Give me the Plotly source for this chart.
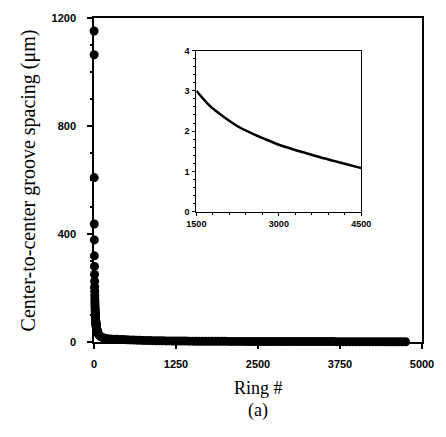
import plotly.graph_objects as go

# ---- main series: ring number vs center-to-center groove spacing (um)
ring_head = [1, 2, 3, 4, 5, 6, 7, 8, 9, 10, 11, 12, 13, 14, 15, 16, 17, 18, 19, 20,
             21, 22, 23, 24, 25, 26, 27, 28, 29, 30, 31, 32, 33, 34, 35, 36, 37, 38,
             39, 40, 42, 44, 46, 48, 50, 53, 56, 60, 65, 70, 80, 90, 100, 125, 150,
             175, 200, 250, 300, 350]
spacing_head = [1152, 1064, 609, 437, 378, 319, 280, 250, 225, 205, 188, 173, 160,
                149, 139, 131, 123, 116, 110, 104, 99, 94, 90, 86, 82, 79, 76, 73, 70,
                68, 66, 64, 62, 60, 58, 56, 55, 53, 52, 50, 48, 46, 44, 42, 40, 38, 36,
                33, 31, 29, 25, 22, 20, 17, 15, 13, 12, 11, 10, 9.8]

ring_tail = list(range(400, 4751, 50))
spacing_tail = [9.5, 9.0, 8.5, 7.8, 7.2, 6.7, 6.2, 5.8, 5.5, 5.2, 5.0, 4.7, 4.5, 4.3,
                4.1, 3.95, 3.8, 3.65, 3.5, 3.38, 3.25, 3.12, 3.0, 2.92, 2.85, 2.77, 2.7,
                2.62, 2.55, 2.5, 2.45, 2.4, 2.35, 2.3, 2.25, 2.2, 2.16, 2.12, 2.08, 2.04,
                2.01, 1.98, 1.95, 1.92, 1.89, 1.86, 1.83, 1.8, 1.77, 1.74, 1.71, 1.68,
                1.66, 1.64, 1.62, 1.59, 1.57, 1.55, 1.53, 1.51, 1.49, 1.47, 1.45, 1.43,
                1.41, 1.39, 1.37, 1.35, 1.34, 1.32, 1.3, 1.28, 1.26, 1.24, 1.23, 1.21,
                1.2, 1.18, 1.17, 1.15, 1.13, 1.1, 1.08, 1.07, 1.05, 1.04, 1.02, 1.01]

ring = ring_head + ring_tail[:len(spacing_tail)]
spacing = spacing_head + spacing_tail

# ---- inset series
inset_ring = [1500, 1625, 1750, 1875, 2000, 2250, 2500, 2750, 3000, 3250, 3500, 3750,
              4000, 4250, 4500]
inset_spacing = [3.0, 2.8, 2.62, 2.48, 2.35, 2.12, 1.95, 1.8, 1.66, 1.55, 1.45, 1.35,
                 1.26, 1.17, 1.08]

main_xticks = [0, 1250, 2500, 3750, 5000]
main_yticks = [0, 400, 800, 1200]
inset_xticks = [1500, 3000, 4500]
inset_yticks = [0, 1, 2, 3, 4]

W, H = 446, 437
ml, mr, mt, mb = 94, 22, 14, 95
pw, ph = W - ml - mr, H - mt - mb

def px2paper_x(px):
    return (px - ml) / pw

def px2paper_y(py):
    return (H - mb - py) / ph

tickfont_main = dict(family="Liberation Sans", size=11, color="black", weight="bold")
tickfont_inset = dict(family="Liberation Sans", size=9, color="black", weight="bold")
serif = "Liberation Serif"

fig = go.Figure()
fig.add_trace(go.Scatter(
    x=ring, y=spacing, mode="markers",
    marker=dict(color="black", size=9, line=dict(width=0)),
    cliponaxis=False, showlegend=False, xaxis="x", yaxis="y"))
fig.add_trace(go.Scatter(
    x=inset_ring, y=inset_spacing, mode="lines",
    line=dict(color="black", width=2.5, shape="spline", smoothing=0.8),
    showlegend=False, xaxis="x2", yaxis="y2"))

axis_common = dict(showline=True, linecolor="black", linewidth=1.5, mirror=True,
                   showgrid=False, zeroline=False, ticks="outside",
                   tickcolor="black")

fig.update_layout(
    width=W, height=H,
    margin=dict(l=ml, r=mr, t=mt, b=mb),
    paper_bgcolor="white", plot_bgcolor="white",
    xaxis=dict(domain=[0, 1], range=[0, 5000], tickvals=main_xticks,
               ticktext=[str(v) for v in main_xticks], ticklen=5, tickwidth=1.5,
               tickfont=tickfont_main, ticklabelstandoff=6, **axis_common),
    yaxis=dict(domain=[0, 1], range=[0, 1200], tickvals=main_yticks,
               ticktext=[str(v) for v in main_yticks], ticklen=5, tickwidth=1.5,
               tickfont=tickfont_main, ticklabelstandoff=9,
               minor=dict(dtick=100, ticklen=2, tickcolor="black", ticks="outside"),
               **axis_common),
    xaxis2=dict(domain=[px2paper_x(197), px2paper_x(363)], anchor="y2",
                range=[1500, 4500], tickvals=inset_xticks,
                ticktext=[str(v) for v in inset_xticks], ticklen=3, tickwidth=1,
                tickfont=tickfont_inset, ticklabelstandoff=0,
                minor=dict(dtick=300, tick0=1500, ticklen=2, tickcolor="black", ticks="outside"),
                **{**axis_common, "linewidth": 1.2}),
    yaxis2=dict(domain=[px2paper_y(210), px2paper_y(47)], anchor="x2",
                range=[0, 4], tickvals=inset_yticks,
                ticktext=[str(v) for v in inset_yticks], ticklen=3, tickwidth=1,
                tickfont=tickfont_inset, ticklabelstandoff=1,
                minor=dict(dtick=0.2, ticklen=2, tickcolor="black", ticks="outside"),
                **{**axis_common, "linewidth": 1.2}),
    annotations=[
        dict(text="Center-to-center groove spacing (μm)", textangle=-90,
             xref="paper", yref="paper", x=px2paper_x(28), y=px2paper_y(178),
             xanchor="center", yanchor="middle", showarrow=False,
             font=dict(family=serif, size=20, color="black")),
        dict(text="Ring #", xref="paper", yref="paper", x=0.5, y=px2paper_y(389),
             xanchor="center", yanchor="middle", showarrow=False,
             font=dict(family=serif, size=18, color="black")),
        dict(text="(a)", xref="paper", yref="paper", x=0.5, y=px2paper_y(411),
             xanchor="center", yanchor="middle", showarrow=False,
             font=dict(family=serif, size=18, color="black")),
    ],
)

fig.write_html("out.html", config={"displayModeBar": False},
               post_script="document.body.style.margin='0';")
